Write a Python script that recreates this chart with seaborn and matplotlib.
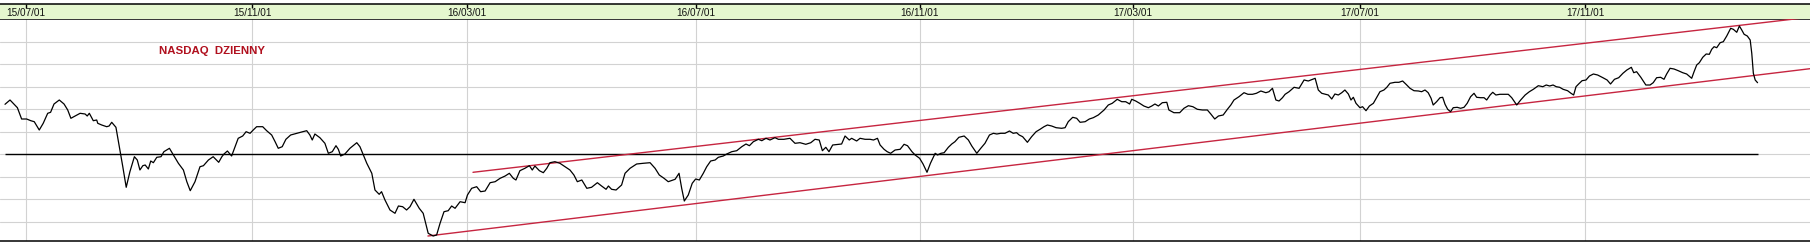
import matplotlib
matplotlib.use("Agg")
import matplotlib.pyplot as plt
import seaborn as sns
import pandas as pd

# ---------------- data ----------------
# x: trading-day index counted from the first session shown (mid-June 2015)
# y: index level in chart units (reference level = 5000)
days = [
    # Jun - Oct 2015
    0, 1.9, 4.7, 6.3, 8.2, 9.8, 11.1, 13.0, 14.5, 16.2,
    17.3, 18.6, 20.6, 22.4, 23.8, 25.0, 26.6, 28.5, 30.4, 31.2,
    32.0, 33.5, 34.8, 35.2, 36.7, 38.6, 39.5, 40.5, 42.1, 43.4,
    44.7, 46.0, 47.4, 49.1, 50.2, 51.2, 52.3, 53.2, 54.4, 55.3,
    56.3, 57.6, 59.2, 60.3, 62.4, 63.9, 65.8, 67.7, 69.0, 70.3,
    72.1, 74.0, 75.3, 77.2, 79.0, 81.1, 82.3,
    # Oct 2015 - Feb 2016
    83.1, 84.4, 86.0, 87.3, 88.5, 90.2, 91.5, 93.0, 94.2, 95.5,
    97.8, 99.3, 101.2, 102.5, 103.7, 105.2, 106.6, 108.4, 110.7, 113.0,
    114.5, 115.7, 116.6, 117.6, 119.5, 121.4, 122.7, 124.2, 125.6, 126.5,
    127.4, 129.0, 130.9, 133.5, 134.7, 136.0, 137.3, 139.2, 140.4, 142.0,
    142.9, 144.2, 146.1, 148.0, 149.3, 150.9, 152.4, 153.7, 155.2, 157.2,
    158.7, 160.6, 162.5, 163.8, 165.1, 166.6,
    # Feb - Jun 2016
    168.2, 169.5, 170.8, 172.7, 174.6, 175.5, 177.1, 179.0, 180.5, 182.2,
    184.1, 186.0, 187.9, 189.8, 191.4, 192.9, 193.9, 195.4, 197.3, 199.0,
    200.1, 201.1, 202.8, 204.3, 205.6, 206.8, 208.7, 210.6, 212.5, 214.4,
    215.9, 217.2, 218.9, 220.8, 222.6, 224.8, 226.4, 228.1, 229.0, 230.2,
    231.9, 234.0, 235.3, 237.2, 239.7, 242.2, 244.8, 246.7, 248.3, 250.1,
    # Jun - Oct 2016
    251.7, 254.3, 255.8, 256.8, 257.8, 259.3, 260.8, 262.1, 263.5, 265.0,
    266.3, 267.8, 269.5, 270.7, 272.6, 273.9, 275.8, 277.7, 279.6, 281.2,
    282.5, 284.0, 285.9, 287.2, 288.8, 290.3, 292.2, 293.5, 295.6, 297.9,
    299.8, 301.7, 303.9, 305.8, 307.4, 309.0, 310.2, 311.5, 312.7, 314.1,
    316.3, 317.5, 318.8, 320.4, 321.3, 323.2, 324.5, 326.4, 328.3, 329.6,
    331.1, 332.1, 333.6,
    # Oct 2016 - Feb 2017
    334.8, 336.1, 337.8, 339.7, 341.2, 342.5, 344.2, 345.4, 347.1, 348.4,
    349.9, 351.2, 353.0, 353.9, 355.2, 356.4, 358.0, 359.3, 360.5, 362.0,
    364.0, 365.6, 366.9, 368.8, 370.3, 371.9, 373.6, 375.1, 376.4, 377.9,
    379.5, 381.2, 382.6, 383.9, 384.9, 386.2, 388.0, 389.6, 391.3, 392.8,
    394.3, 395.6, 397.2, 398.9, 401.0, 402.3, 403.5, 405.2, 406.7, 408.0,
    409.9, 411.5, 413.0, 414.9, 417.1,
    # Feb - Jun 2017
    418.7, 420.2, 422.1, 423.8, 425.3, 426.8, 427.6, 429.1, 430.6, 432.2,
    433.9, 435.2, 436.4, 437.7, 439.2, 440.9, 441.7, 443.6, 445.8, 447.4,
    449.1, 450.8, 452.5, 454.4, 456.3, 457.6, 459.1, 460.5, 462.3, 463.9,
    465.2, 466.4, 468.3, 470.2, 471.7, 473.4, 474.9, 476.6, 478.5, 479.7,
    481.0, 482.3, 483.5, 484.8, 485.8, 487.3, 489.2, 491.1, 493.0, 494.6,
    496.2, 497.2, 498.4, 499.7,
    # Jun - Oct 2017
    502.2, 503.5, 504.7, 506.0, 507.3, 508.5, 509.8, 510.8, 511.7, 512.7,
    514.2, 515.2, 516.5, 517.8, 519.3, 520.6, 521.8, 523.3, 524.4, 525.6,
    527.5, 529.0, 530.4, 531.7, 533.2, 534.7, 536.4, 537.6, 538.9, 540.1,
    541.2, 542.0, 543.3, 544.6, 545.6, 546.5, 547.5, 548.6, 549.6, 551.1,
    552.4, 553.7, 554.9, 556.2, 557.5, 558.5, 560.0, 561.3, 562.3, 563.6,
    564.6, 565.8, 567.3, 569.2, 570.5, 571.8, 573.7, 575.2, 576.9, 578.5,
    580.0, 581.9, 583.6,
    # Oct 2017 - Feb 2018
    584.9, 586.2, 587.5, 588.7, 590.0, 591.3, 593.0, 594.3, 595.3, 596.2,
    597.2, 598.5, 600.0, 601.3, 602.8, 604.4, 606.4, 608.0, 609.3, 610.8,
    612.4, 614.0, 615.5, 617.2, 618.1, 619.2, 620.8, 622.7, 624.3, 625.5,
    626.8, 628.3, 629.6, 630.6, 631.9, 633.4, 635.0, 636.7, 638.2, 640.1,
    641.0, 642.0, 643.0, 644.3, 645.6, 646.8, 647.7, 648.6, 649.6, 650.9,
    652.1, 653.4, 654.9, 655.9, 657.2, 658.2, 659.1, 660.0, 661.2, 662.3,
    662.9, 663.5, 664.2, 665.1,
]
closes = [
    5497, 5540, 5463, 5350, 5350, 5333, 5323, 5240, 5307, 5407,
    5417, 5500, 5540, 5500, 5440, 5357, 5380, 5407, 5400, 5380,
    5407, 5333, 5340, 5307, 5290, 5273, 5280, 5317, 5267, 5073,
    4873, 4667, 4823, 4973, 4940, 4840, 4883, 4890, 4850, 4930,
    4913, 4967, 4973, 5023, 5057, 4990, 4907, 4840, 4723, 4633,
    4723, 4873, 4883, 4940, 4973, 4917, 4973,
    5000, 5030, 4980, 5073, 5157, 5180, 5223, 5207, 5240, 5273,
    5273, 5233, 5190, 5123, 5057, 5073, 5147, 5190, 5207, 5223,
    5233, 5190, 5140, 5200, 5163, 5107, 5007, 5023, 5083, 5047,
    4980, 5000, 5057, 5113, 5073, 4990, 4907, 4807, 4640, 4597,
    4623, 4540, 4440, 4407, 4480, 4473, 4440, 4473, 4547, 4457,
    4407, 4207, 4180, 4190, 4307, 4423,
    4433, 4480, 4457, 4523, 4513, 4590, 4657, 4673, 4623, 4630,
    4713, 4723, 4757, 4780, 4807, 4757, 4740, 4833, 4857, 4883,
    4840, 4880, 4833, 4813, 4857, 4913, 4923, 4907, 4873, 4840,
    4790, 4723, 4740, 4657, 4667, 4713, 4680, 4647, 4680, 4647,
    4640, 4690, 4807, 4857, 4900, 4907, 4913, 4857, 4790, 4757,
    4723, 4747, 4807, 4657, 4530, 4590, 4707, 4750, 4740, 4807,
    4873, 4930, 4940, 4967, 4980, 5000, 5023, 5033, 5073, 5100,
    5083, 5123, 5147, 5133, 5157, 5140, 5163, 5147, 5147, 5157,
    5107, 5113, 5097, 5113, 5147, 5140, 5033, 5067, 5023, 5090,
    5097, 5100, 5180, 5140, 5157, 5130, 5157, 5147, 5147, 5140,
    5157, 5090, 5047,
    5023, 5007, 5040, 5047, 5097, 5083, 5023, 4990, 4957, 4900,
    4817, 4907, 5007, 4990, 5007, 5013, 5067, 5100, 5123, 5167,
    5180, 5140, 5080, 5007, 5057, 5107, 5190, 5207, 5200, 5207,
    5207, 5230, 5207, 5213, 5190, 5173, 5117, 5173, 5223, 5247,
    5273, 5290, 5280, 5263, 5257, 5263, 5323, 5367, 5357, 5317,
    5323, 5350, 5363, 5390, 5440,
    5490, 5507, 5547, 5523, 5523, 5500, 5547, 5530, 5507, 5480,
    5463, 5480, 5500, 5480, 5513, 5517, 5440, 5413, 5413, 5457,
    5483, 5473, 5447, 5440, 5440, 5400, 5350, 5380, 5390, 5447,
    5490, 5540, 5573, 5613, 5597, 5597, 5607, 5630, 5613, 5623,
    5657, 5540, 5530, 5563, 5597, 5623, 5667, 5657, 5740, 5730,
    5747, 5757, 5640, 5607,
    5590, 5550, 5600, 5590, 5613, 5640, 5600, 5540, 5567, 5507,
    5463, 5473, 5433, 5480, 5507, 5567, 5623, 5640, 5667, 5707,
    5717, 5717, 5730, 5697, 5657, 5633, 5630, 5623, 5640, 5613,
    5557, 5490, 5523, 5563, 5567, 5497, 5447, 5423, 5463, 5467,
    5457, 5467, 5507, 5573, 5607, 5567, 5563, 5563, 5540, 5590,
    5617, 5590, 5597, 5597, 5597, 5563, 5490, 5540, 5590, 5623,
    5647, 5683, 5673,
    5690, 5680, 5690, 5673, 5667, 5647, 5633, 5607, 5590, 5673,
    5700, 5733, 5740, 5780, 5800, 5790, 5763, 5740, 5700, 5747,
    5763, 5807, 5840, 5867, 5813, 5823, 5767, 5690, 5690, 5713,
    5763, 5767, 5747, 5800, 5857, 5850, 5833, 5813, 5800, 5757,
    5823, 5890, 5913, 5967, 6000, 5997, 6047, 6073, 6063, 6113,
    6123, 6180, 6257, 6247, 6217, 6280, 6240, 6197, 6180, 6140,
    6007, 5807, 5740, 5713,
]

tick_days = [7.8, 93.9, 175.4, 262.1, 347.1, 428.2, 514.1, 599.7]
tick_labels = ["15/07/01", "15/11/01", "16/03/01", "16/07/01",
               "16/11/01", "17/03/01", "17/07/01", "17/11/01"]
grid_levels = [4325, 4550, 4775, 5000, 5225, 5450, 5675, 5900, 6125]
reference_level = 5000

upper_days = [177.6, 685.0]
upper_vals = [4817, 6368]
lower_days = [160.5, 685.0]
lower_vals = [4180, 5853]

title = "NASDAQ  DZIENNY"

# ---------------- drawing ----------------
assert len(days) == len(closes)
df = pd.DataFrame({"day": days, "close": closes})

sns.set_theme(style="white")
plt.rcParams["font.family"] = ["Liberation Sans", "DejaVu Sans"]

W, H = 1810, 242
fig = plt.figure(figsize=(W / 100, H / 100), dpi=100)
fig.patch.set_facecolor("white")

ax = fig.add_axes([0, 1 / H, 1, (241 - 19) / H])
band = fig.add_axes([0, (H - 19) / H, 1, (19 - 3.5) / H])

xlim = (-1.9, 685.0)
ax.set_xlim(*xlim)
ax.set_ylim(4130, 6350)
ax.set_facecolor("white")
ax.set_xticks(tick_days)
ax.set_yticks(grid_levels)
ax.tick_params(labelbottom=False, labelleft=False, length=0)
ax.grid(True, color="#d2d2d2", linewidth=0.8)
for s in ["left", "right"]:
    ax.spines[s].set_visible(False)
for s in ["top", "bottom"]:
    ax.spines[s].set_color("black")
    ax.spines[s].set_linewidth(1.1)

ax.hlines(reference_level, days[0], days[-1], colors="black", linewidth=1.0, zorder=3)
sns.lineplot(x=upper_days, y=upper_vals, ax=ax, color="#c62540", linewidth=1.0, zorder=3)
sns.lineplot(x=lower_days, y=lower_vals, ax=ax, color="#c62540", linewidth=1.0, zorder=3)
sns.lineplot(data=df, x="day", y="close", ax=ax, color="black", linewidth=0.9,
             sort=False, estimator=None, zorder=4)
ax.set_xlabel("")
ax.set_ylabel("")

ax.text(159 / W, (241 - 54) / 222, title, transform=ax.transAxes,
        ha="left", va="baseline", fontsize=8.2, fontweight="bold", color="#b0101e")

# top date band
band.set_xlim(*xlim)
band.set_ylim(0, 1)
band.set_facecolor("#e5f7cf")
band.set_xticks(tick_days)
band.set_yticks([])
band.tick_params(axis="x", direction="in", top=True, bottom=False, length=3,
                 width=1, color="black", labeltop=False, labelbottom=False)
for s in ["left", "right", "bottom"]:
    band.spines[s].set_visible(False)
band.spines["top"].set_color("black")
band.spines["top"].set_linewidth(1.1)
for d, lab in zip(tick_days, tick_labels):
    band.text(d, 0.2, lab, ha="center", va="baseline", fontsize=7.2, color="#111111")

fig.savefig("out.png", dpi=100)
